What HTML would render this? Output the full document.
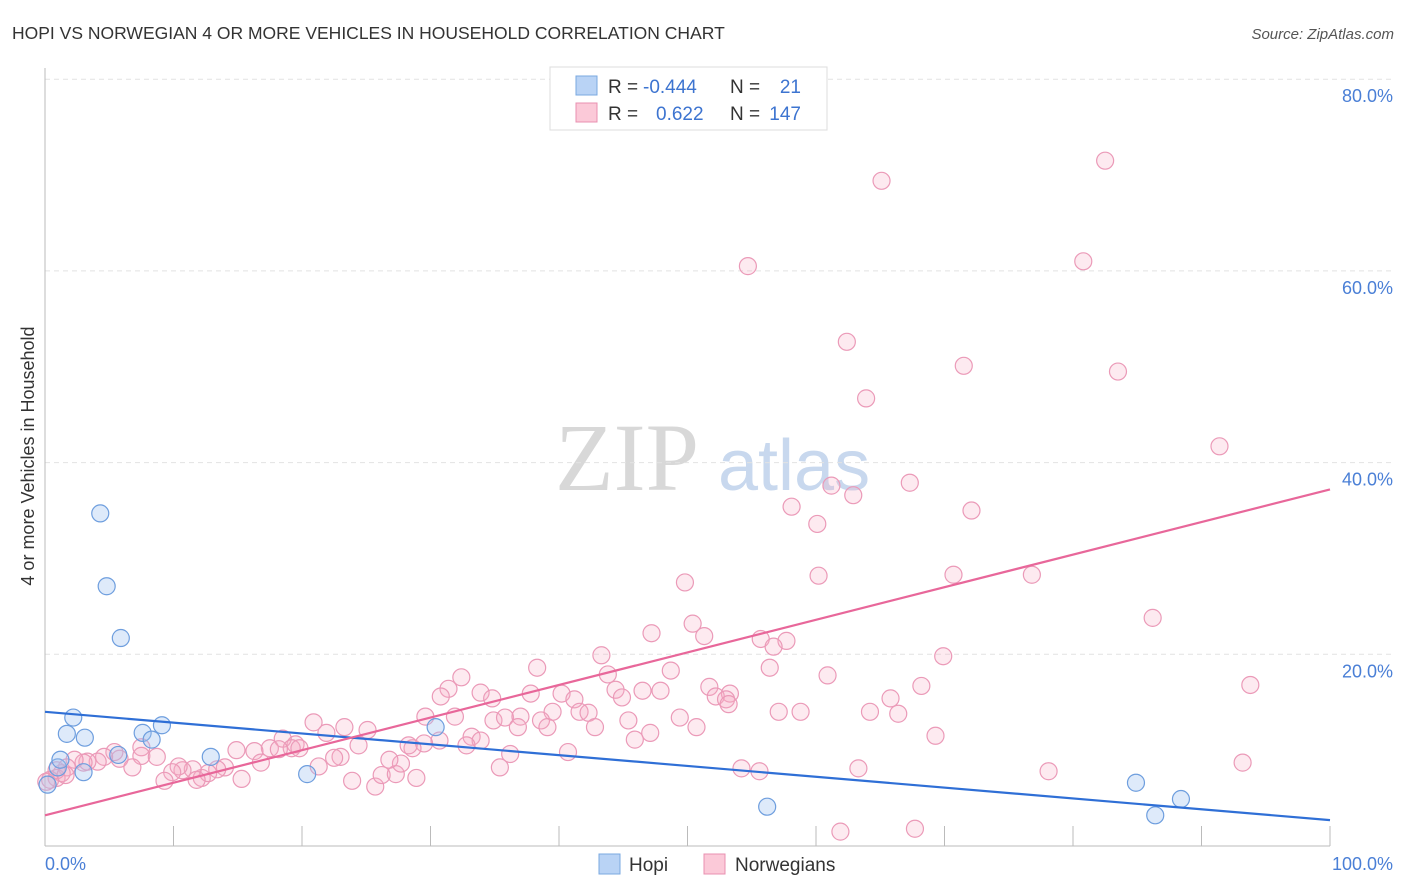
<!DOCTYPE html>
<html><head><meta charset="utf-8">
<style>
body{margin:0;background:#fff;font-family:"Liberation Sans",sans-serif;}
#wrap{position:relative;width:1406px;height:892px;overflow:hidden;}
</style></head>
<body>
<div id="wrap">
<svg id="chart" width="1406" height="892" xmlns="http://www.w3.org/2000/svg">
<text x="12" y="39" font-size="17.5" fill="#333">HOPI VS NORWEGIAN 4 OR MORE VEHICLES IN HOUSEHOLD CORRELATION CHART</text>
<text x="1394" y="39" font-size="15" fill="#555" font-style="italic" text-anchor="end">Source: ZipAtlas.com</text>
<g>
<text x="555" y="490" font-size="96" font-family="Liberation Serif,serif" fill="#d8d8d8">ZIP</text>
<text x="718" y="490" font-size="72" fill="#c8d8ee">atlas</text>
</g>
<g id="grid"></g>
<g id="axes"></g>
<g id="marks"></g>
<g id="trends"></g>
<text transform="translate(34,456) rotate(-90)" font-size="18" fill="#333" text-anchor="middle">4 or more Vehicles in Household</text>
<g>
<rect x="550" y="67" width="277" height="63" fill="#fff" stroke="#ddd"/>
<rect x="576" y="76" width="21" height="19" fill="#b9d3f5" stroke="#7aa8e0"/>
<rect x="576" y="103" width="21" height="19" fill="#fbc9d8" stroke="#e890b0"/>
<text x="608" y="93" font-size="19" fill="#333">R = </text>
<text x="643" y="93" font-size="19" fill="#3d74d0">-0.444</text>
<text x="730" y="93" font-size="19" fill="#333">N = </text>
<text x="801" y="93" font-size="19" fill="#3d74d0" text-anchor="end">21</text>
<text x="608" y="120" font-size="19" fill="#333">R = </text>
<text x="656" y="120" font-size="19" fill="#3d74d0">0.622</text>
<text x="730" y="120" font-size="19" fill="#333">N = </text>
<text x="801" y="120" font-size="19" fill="#3d74d0" text-anchor="end">147</text>
</g>
<g>
<rect x="599" y="854" width="21" height="20" fill="#b9d3f5" stroke="#7aa8e0"/>
<text x="629" y="871" font-size="19" fill="#333">Hopi</text>
<rect x="704" y="854" width="21" height="20" fill="#fbc9d8" stroke="#e890b0"/>
<text x="735" y="871" font-size="19" fill="#333">Norwegians</text>
</g>
</svg>
</div>
<script>
const yTicks=[20,40,60,80];
const yTickLabels=["20.0%","40.0%","60.0%","80.0%"];
const xTicks=[0,10,20,30,40,50,60,70,80,90,100];
const hopiX=[0.2,1.0,1.2,2.2,1.7,3.1,3.0,4.3,4.8,5.9,7.6,8.3,9.1,5.7,12.9,20.4,30.4,56.2,84.9,86.4,88.4];
const hopiY=[6.4,8.2,9.0,13.4,11.7,11.3,7.7,34.7,27.1,21.7,11.8,11.1,12.6,9.5,9.3,7.5,12.4,4.1,6.6,3.2,4.9];
const norX=[82.5,65.1,54.7,80.8,62.4,71.5,83.5,63.9,91.4,61.2,62.9,67.3,58.1,72.1,60.1,60.2,70.7,76.8,49.8,86.2,50.4,47.2,51.3,55.7,57.7,56.7,43.3,69.9,56.4,43.8,48.7,38.3,60.9,32.4,31.4,30.8,44.4,46.5,47.9,51.7,68.2,53.3,65.8,33.9,34.8,37.8,40.2,41.2,44.9,52.2,53.0,53.2,93.8,41.6,39.5,42.3,57.1,58.8,64.2,66.4,20.9,23.3,25.1,29.6,31.9,34.9,35.8,37.0,38.6,39.1,45.4,49.4,50.7,36.8,42.8,33.2,33.9,32.8,30.7,29.5,28.6,28.3,24.4,21.9,19.5,18.5,19.2,19.8,17.5,16.3,14.9,14.0,13.4,12.2,12.7,11.5,10.7,10.4,9.9,7.5,7.5,8.7,5.8,5.4,4.6,4.1,3.3,3.0,2.3,1.7,1.3,0.9,0.4,0.9,1.6,0.1,6.8,9.3,11.8,15.3,16.8,18.2,23.0,22.5,21.3,23.9,25.7,26.2,27.3,27.7,26.8,28.9,35.4,36.2,40.7,45.9,47.1,54.2,55.6,69.3,63.3,78.1,93.2,61.9,67.7];
const norY=[71.5,69.4,60.5,61.0,52.6,50.1,49.5,46.7,41.7,37.6,36.6,37.9,35.4,35.0,33.6,28.2,28.3,28.3,27.5,23.8,23.2,22.2,21.9,21.6,21.4,20.8,19.9,19.8,18.6,17.9,18.3,18.6,17.8,17.6,16.4,15.6,16.3,16.2,16.2,16.6,16.7,15.9,15.4,16.0,15.4,15.9,15.9,15.3,15.5,15.6,15.3,14.8,16.8,14.0,14.0,13.9,14.0,14.0,14.0,13.8,12.9,12.4,12.1,13.5,13.5,13.1,13.4,13.5,13.1,12.4,13.1,13.4,12.4,12.4,12.4,11.4,11.0,10.5,11.0,10.7,10.2,10.5,10.5,11.8,10.6,11.2,10.2,10.2,10.2,9.9,10.0,8.2,8.0,7.1,7.6,8.0,7.9,8.3,7.7,10.3,9.4,9.3,9.1,9.8,9.3,8.8,8.8,8.7,9.0,8.2,7.6,7.1,6.9,7.9,7.4,6.7,8.2,6.8,6.9,7.0,8.7,10.1,9.3,9.2,8.3,6.8,6.2,7.4,7.5,8.6,9.0,7.1,8.2,9.6,9.8,11.1,11.8,8.1,7.8,11.5,8.1,7.8,8.7,1.5,1.8];
const hopiTrend=[14.0,2.7];
const norTrend=[3.2,37.2];

const NS="http://www.w3.org/2000/svg";
const X0=45,X1=1330,Y0=846,PPU=9.585;
function sx(v){return X0+(X1-X0)*v/100;}
function sy(v){return Y0-v*PPU;}
function mk(tag,attrs,parent){const e=document.createElementNS(NS,tag);for(const k in attrs)e.setAttribute(k,attrs[k]);parent.appendChild(e);return e;}
const grid=document.getElementById('grid'),axes=document.getElementById('axes'),marks=document.getElementById('marks'),trends=document.getElementById('trends');
yTicks.forEach((t,i)=>{
 const l=mk('line',{x1:X0,x2:1393,y1:sy(t),y2:sy(t),stroke:'#e2e2e2','stroke-dasharray':'5,4'},grid);
 
 
 const tx=mk('text',{x:1393,y:sy(t)+23,'font-size':18,fill:'#4a7fd6','text-anchor':'end'},axes);
 tx.textContent=yTickLabels[i];
 
 
});
mk('line',{x1:X0,x2:X0,y1:68,y2:Y0,stroke:'#bbb'},axes);
mk('line',{x1:X0,x2:X1,y1:Y0,y2:Y0,stroke:'#bbb'},axes);
xTicks.forEach(t=>{
 const l=mk('line',{x1:sx(t),x2:sx(t),y1:826,y2:Y0,stroke:'#bbb'},axes);
 
 
});
const xl=mk('text',{x:45,y:870,'font-size':18,fill:'#4a7fd6'},axes);xl.textContent='0.0%';


const xr=mk('text',{x:1393,y:870,'font-size':18,fill:'#4a7fd6','text-anchor':'end'},axes);xr.textContent='100.0%';


norX.forEach((x,i)=>{
 const c=mk('circle',{cx:sx(x),cy:sy(norY[i]),r:8.5,fill:'rgba(246,170,196,0.25)',stroke:'#eb9ab8','stroke-width':1.2},marks);
 
 
});
hopiX.forEach((x,i)=>{
 const c=mk('circle',{cx:sx(x),cy:sy(hopiY[i]),r:8.5,fill:'rgba(160,196,240,0.35)',stroke:'#6e9ede','stroke-width':1.2},marks);
 
 
});
const tb=mk('line',{x1:sx(0),y1:sy(hopiTrend[0]),x2:sx(100),y2:sy(hopiTrend[1]),stroke:'#2f6fd6','stroke-width':2.2},trends);


const tp=mk('line',{x1:sx(0),y1:sy(norTrend[0]),x2:sx(100),y2:sy(norTrend[1]),stroke:'#e8679a','stroke-width':2.2},trends);


</script>
</body></html>
